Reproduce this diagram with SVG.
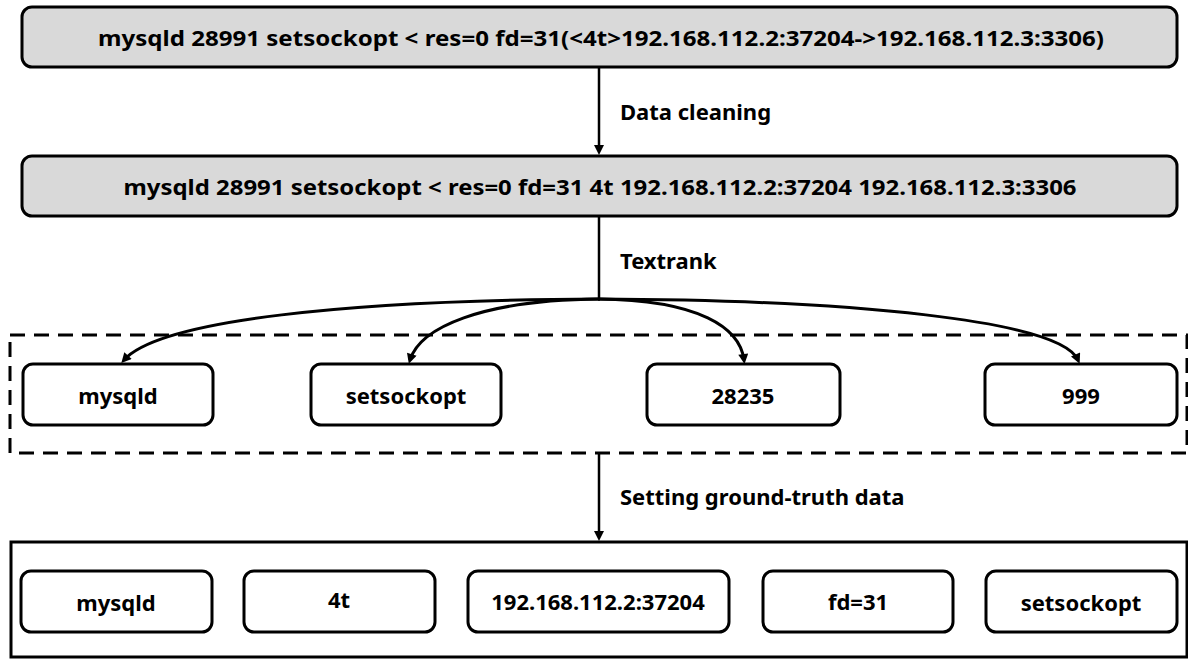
<svg xmlns="http://www.w3.org/2000/svg" width="1188" height="660" viewBox="0 0 1188 660">
<style>
.t{font-family:"Noto Sans","DejaVu Sans",sans-serif;font-weight:bold;font-size:22px;fill:#000;}
.big{font-size:21px;}
.m{text-anchor:middle;dominant-baseline:central;}
.hdr{fill:#d9d9d9;stroke:#000;stroke-width:3;}
.nd{fill:#fff;stroke:#000;stroke-width:3;}
.ln{fill:none;stroke:#000;stroke-width:3;}
.vl{fill:none;stroke:#000;stroke-width:2.5;}
</style>
<defs>
<marker id="ah" viewBox="0 0 10 10" refX="6" refY="5" markerWidth="12" markerHeight="10" markerUnits="userSpaceOnUse" orient="auto">
<path d="M0,0 L10,5 L0,10 z" fill="#000"/>
</marker>
</defs>
<rect width="1188" height="660" fill="#fff"/>

<g id="raw-log">
<rect class="hdr" x="22" y="7" width="1155" height="60" rx="10"/>
<text class="t big m" x="601" y="38" textLength="1006" lengthAdjust="spacingAndGlyphs">mysqld 28991 setsockopt &lt; res=0 fd=31(&lt;4t&gt;192.168.112.2:37204-&gt;192.168.112.3:3306)</text>
</g>

<g id="clean-log">
<rect class="hdr" x="22" y="156" width="1155" height="60" rx="10"/>
<text class="t big m" x="600" y="187" textLength="953" lengthAdjust="spacingAndGlyphs">mysqld 28991 setsockopt &lt; res=0 fd=31 4t 192.168.112.2:37204 192.168.112.3:3306</text>
</g>

<g id="textrank-group">
<rect x="10" y="335" width="1177" height="118" fill="none" stroke="#000" stroke-width="3" stroke-dasharray="15 9"/>
</g>

<g id="tr-mysqld">
<rect class="nd" x="23" y="364" width="190" height="61" rx="10"/>
<text class="t m" x="118" y="395">mysqld</text>
</g>
<g id="tr-setsockopt">
<rect class="nd" x="311" y="364" width="190" height="61" rx="10"/>
<text class="t m" x="406" y="395">setsockopt</text>
</g>
<g id="tr-28235">
<rect class="nd" x="647" y="364" width="193" height="61" rx="10"/>
<text class="t m" x="743" y="395">28235</text>
</g>
<g id="tr-999">
<rect class="nd" x="985" y="364" width="192" height="61" rx="10"/>
<text class="t m" x="1081" y="395">999</text>
</g>

<g id="ground-truth-group">
<rect x="11" y="542" width="1176" height="115" fill="none" stroke="#000" stroke-width="3"/>
</g>

<g id="gt-mysqld">
<rect class="nd" x="21" y="571" width="191" height="61" rx="10"/>
<text class="t m" x="116" y="602">mysqld</text>
</g>
<g id="gt-4t">
<rect class="nd" x="244" y="571" width="191" height="61" rx="10"/>
<text class="t m" x="339" y="599">4t</text>
</g>
<g id="gt-ip">
<rect class="nd" x="468" y="571" width="261" height="61" rx="10"/>
<text class="t m" x="598" y="601">192.168.112.2:37204</text>
</g>
<g id="gt-fd">
<rect class="nd" x="763" y="571" width="190" height="61" rx="10"/>
<text class="t m" x="858" y="601">fd=31</text>
</g>
<g id="gt-setsockopt">
<rect class="nd" x="986" y="571" width="191" height="61" rx="10"/>
<text class="t m" x="1081" y="602">setsockopt</text>
</g>

<g id="connectors">
<line class="vl" x1="599" y1="67" x2="599" y2="151" marker-end="url(#ah)"/>
<text class="t" x="620" y="120">Data cleaning</text>
<line class="vl" x1="599" y1="216" x2="599" y2="299"/>
<text class="t" x="620" y="269">Textrank</text>
<path class="ln" d="M600,299 C350,300 160,320 124,360" marker-end="url(#ah)"/>
<path class="ln" d="M600,299 C480,300 420,328 410,360" marker-end="url(#ah)"/>
<path class="ln" d="M598,299 C700,300 740,328 744,360" marker-end="url(#ah)"/>
<path class="ln" d="M598,299 C850,300 1060,320 1078,360" marker-end="url(#ah)"/>
<line class="vl" x1="599" y1="453" x2="599" y2="537" marker-end="url(#ah)"/>
<text class="t" x="620" y="505">Setting ground-truth data</text>
</g>
</svg>
